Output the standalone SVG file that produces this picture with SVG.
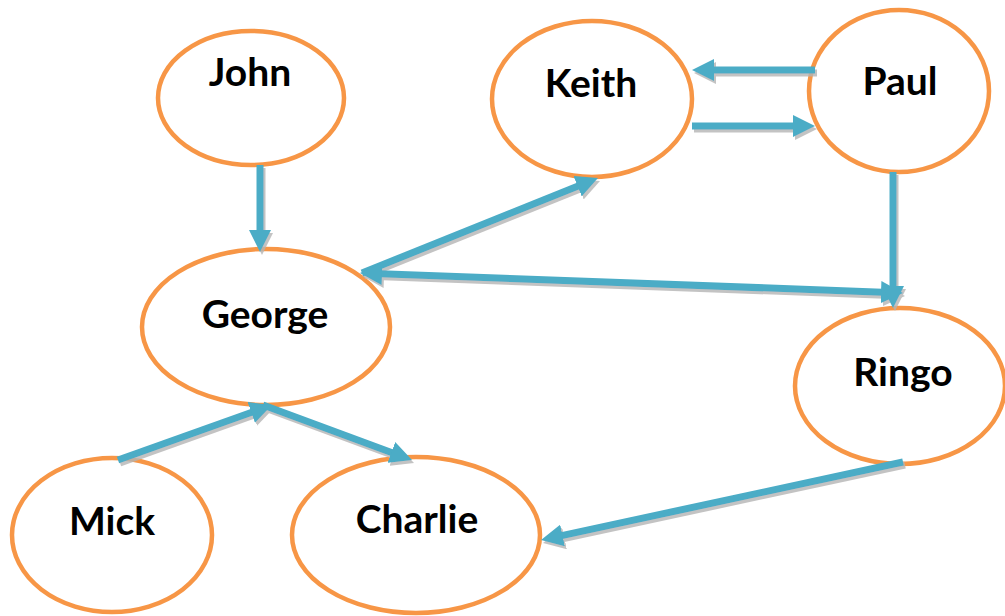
<svg xmlns="http://www.w3.org/2000/svg" width="1005" height="616" viewBox="0 0 1005 616">
<defs>
<style>
.node ellipse{fill:#fff;stroke:#F79646;stroke-width:4.5}
.node text{font-family:Lato,"Open Sans","Liberation Sans",sans-serif;font-weight:bold;font-size:39px;fill:#000;text-anchor:middle}
.conn line{stroke:#4BACC6;stroke-width:7;fill:none;marker-end:url(#ah)}
</style>
<marker id="ah" viewBox="0 0 22 22" refX="8" refY="11" markerWidth="22" markerHeight="22" markerUnits="userSpaceOnUse" orient="auto-start-reverse">
<path d="M0,0 L22,11 L0,22 Z" fill="#4BACC6"/>
</marker>
<filter id="sh" x="-10%" y="-10%" width="120%" height="130%">
<feDropShadow dx="2" dy="3" stdDeviation="0.6" flood-color="#b4b4b4" flood-opacity="0.8"/>
</filter>
</defs>
<rect width="1005" height="616" fill="#fff"/>
<g id="john" class="node"><ellipse cx="251" cy="98" rx="93" ry="67"/><text x="250" y="86">John</text></g>
<g id="keith" class="node"><ellipse cx="592" cy="99" rx="100" ry="78"/><text x="591" y="97">Keith</text></g>
<g id="paul" class="node"><ellipse cx="899" cy="91" rx="90" ry="81"/><text x="900" y="95">Paul</text></g>
<g id="george" class="node"><ellipse cx="266" cy="327" rx="124" ry="78"/><text x="265" y="328">George</text></g>
<g id="ringo" class="node"><ellipse cx="900" cy="386" rx="105" ry="78"/><text x="903" y="386">Ringo</text></g>
<g id="mick" class="node"><ellipse cx="112" cy="535" rx="100" ry="77"/><text x="112" y="535">Mick</text></g>
<g id="charlie" class="node"><ellipse cx="416" cy="535" rx="124" ry="78"/><text x="417" y="533">Charlie</text></g>
<g id="connectors" class="conn" filter="url(#sh)">
<line x1="260" y1="165" x2="260" y2="238"/>
<line x1="815" y1="70" x2="706" y2="70"/>
<line x1="692" y1="126" x2="801" y2="126"/>
<line x1="362" y1="273" x2="585" y2="183.2"/>
<line x1="374" y1="273.6" x2="889" y2="292.4" style="marker-start:url(#ah)"/>
<line x1="893" y1="172" x2="893" y2="294"/>
<line x1="118" y1="460" x2="258.8" y2="409.7"/>
<line x1="263" y1="405" x2="398.9" y2="455.2"/>
<line x1="903" y1="462" x2="554.7" y2="537.1"/>
</g>
</svg>
